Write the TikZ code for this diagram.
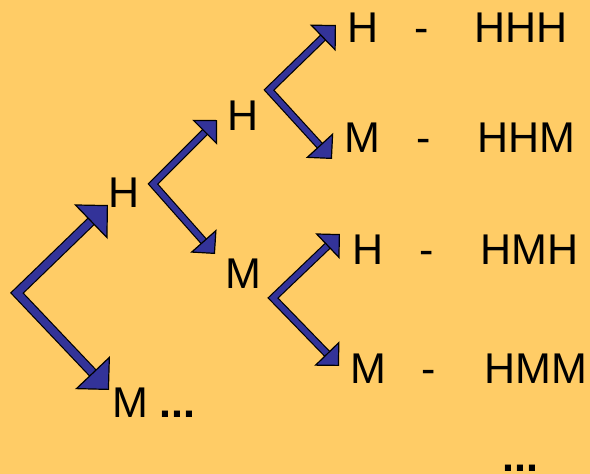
\documentclass[tikz,border=0pt]{standalone}
\usepackage{fontspec}
\setmainfont{Liberation Sans}
\usetikzlibrary{arrows.meta}
\definecolor{slidebg}{HTML}{FFCC66}
\definecolor{forkblue}{HTML}{333399}
\newcommand{\TreeFont}{\fontsize{43}{50}\selectfont}
\tikzset{
  fork/.style n args={3}{draw=forkblue, line width=#1, line join=miter, <->,
    >={Triangle[length=#2, width=#3, fill=forkblue, color=black, line width=1.2pt]},
    preaction={draw=black, line width=#1+2.4pt, arrows=-, shorten <=10pt, shorten >=10pt}},
  leaf/.style={anchor=base west, inner sep=0pt, font=\TreeFont},
}

\begin{document}
\begin{tikzpicture}[x=1pt,y=-1pt]

% Background
\fill[slidebg] (0,0) rectangle (590,474);
\useasboundingbox (0,0) rectangle (590,474);

% Fork points
\coordinate (root) at (17,293);
\coordinate (rootH) at (108,205);
\coordinate (rootM) at (109,390);
\coordinate (h) at (153,184);
\coordinate (hH) at (217,120);
\coordinate (hM) at (215,254);
\coordinate (hh) at (269,90);
\coordinate (hhH) at (336,25);
\coordinate (hhM) at (332,159);
\coordinate (hm) at (273,298);
\coordinate (hmH) at (340,234);
\coordinate (hmM) at (339,366);

% Forks
\draw[fork={7.5pt}{24pt}{48pt}] (rootH) -- (root) -- (rootM);
\draw[fork={5.6pt}{17.5pt}{35pt}] (hH) -- (h) -- (hM);
\draw[fork={5.6pt}{18.5pt}{37pt}] (hhH) -- (hh) -- (hhM);
\draw[fork={5.6pt}{17.5pt}{35pt}] (hmH) -- (hm) -- (hmM);

% Label the branches
\node (lblH) [leaf] at (108,207) {H};
\node (lblM) [leaf] at (112,417) {M \textbf{...}};
\node (lblHH) [leaf] at (227,130) {H};
\node (lblHM) [leaf] at (225,288) {M};

% Outcomes
\node (leafHHH) [leaf] at (347,42) {H};
\node (dashHHH) [leaf] at (414,42) {-};
\node (seqHHH) [leaf] at (474,42) {HHH};
\node (leafHHM) [leaf] at (344,152) {M};
\node (dashHHM) [leaf] at (416,152) {-};
\node (seqHHM) [leaf] at (477,152) {HHM};
\node (leafHMH) [leaf] at (352,264) {H};
\node (dashHMH) [leaf] at (419,264) {-};
\node (seqHMH) [leaf] at (480,264) {HMH};
\node (leafHMM) [leaf] at (350,383) {M};
\node (dashHMM) [leaf] at (421,383) {-};
\node (seqHMM) [leaf] at (484,383) {HMM};
\node (more) [leaf] at (502,471) {\textbf{...}};

\end{tikzpicture}
\end{document}
